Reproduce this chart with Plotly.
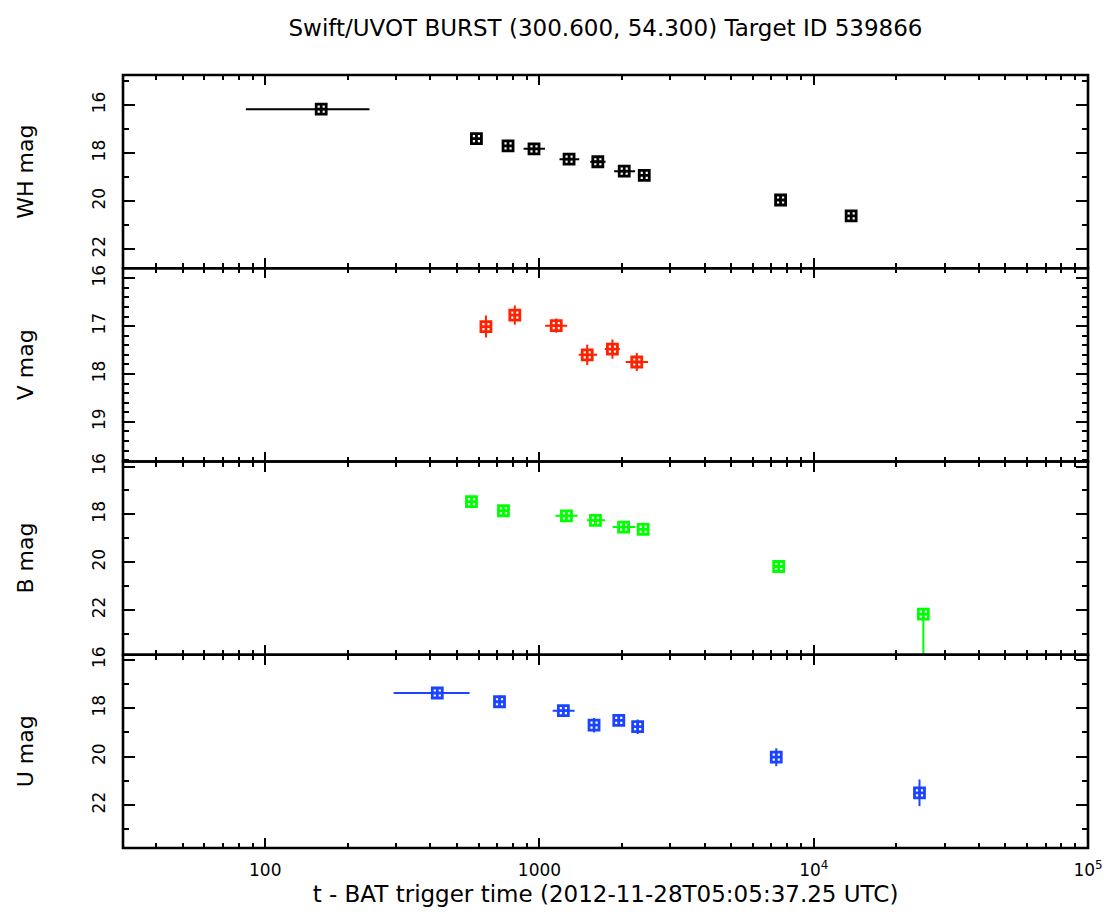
import numpy as np
import plotly.graph_objects as go
from plotly.subplots import make_subplots

# ---------------- data ----------------
# WH filter (black)
wh_t = [160, 589, 768, 955, 1282, 1632, 2037, 2410, 7570, 13690]
wh_t_lo = [75, 0, 0, 80, 99, 101, 166, 0, 0, 0]
wh_t_hi = [80, 0, 0, 92, 114, 110, 195, 0, 0, 0]
wh_mag = [16.17, 17.40, 17.70, 17.82, 18.25, 18.36, 18.75, 18.93, 19.95, 20.61]
wh_err = [0.05, 0.05, 0.05, 0.06, 0.07, 0.07, 0.07, 0.08, 0.08, 0.1]

# V filter (red)
v_t = [638, 813, 1151, 1493, 1845, 2263]
v_t_lo = [0, 0, 102, 103, 115, 202]
v_t_hi = [0, 0, 111, 129, 118, 226]
v_mag = [17.01, 16.77, 16.99, 17.60, 17.48, 17.75]
v_err = [0.23, 0.20, 0.15, 0.21, 0.20, 0.19]

# B filter (green)
b_t = [565, 739, 1254, 1600, 2026, 2388, 7450, 25100]
b_t_lo = [0, 0, 111, 111, 177, 0, 0, 0]
b_t_hi = [0, 0, 123, 134, 212, 0, 0, 0]
b_mag = [17.47, 17.85, 18.06, 18.25, 18.53, 18.63, 20.18, 22.17]
b_err_up = [0.08, 0.1, 0.08, 0.08, 0.08, 0.15, 0.15, 0.2]
b_err_dn = [0.08, 0.1, 0.08, 0.08, 0.08, 0.15, 0.15, 2.5]

# U filter (blue)
u_t = [424, 715, 1222, 1581, 1946, 2280, 7300, 24300]
u_t_lo = [130, 0, 105, 0, 0, 0, 0, 0]
u_t_hi = [132, 0, 121, 0, 0, 0, 0, 0]
u_mag = [17.37, 17.73, 18.10, 18.70, 18.50, 18.76, 20.02, 21.49]
u_err = [0.05, 0.26, 0.1, 0.3, 0.2, 0.3, 0.37, 0.55]

panel_names = ["WH mag", "V mag", "B mag", "U mag"]
panel_colors = ["#000000", "#ff2200", "#00ff00", "#1a44ff"]
y_ranges = [[22.79, 14.75], [19.83, 15.79], [23.87, 15.79], [23.77, 15.79]]
y_major = [[16, 18, 20, 22], [16, 17, 18, 19], [16, 18, 20, 22], [16, 18, 20, 22]]
y_minor = [
    [15, 17, 19, 21],
    [round(15.8 + 0.2 * i, 1) for i in range(21)],
    [17, 19, 21, 23],
    [17, 19, 21, 23],
]
x_major = [100, 1000, 1e4, 1e5]
x_major_text = ["100", "1000", "10<sup>4</sup>", "10<sup>5</sup>"]
x_minor = [m * 10 ** d for d in range(1, 5) for m in range(2, 10)]
x_range = [np.log10(30.3), 5.0]

title_text = "Swift/UVOT BURST (300.600, 54.300) Target ID 539866"
xlabel = "t - BAT trigger time (2012-11-28T05:05:37.25 UTC)"

FONT = "DejaVu Sans, Liberation Sans, sans-serif"

fig = make_subplots(rows=4, cols=1, shared_xaxes=True, vertical_spacing=0)

series = [
    (wh_t, wh_t_lo, wh_t_hi, wh_mag, wh_err, wh_err),
    (v_t, v_t_lo, v_t_hi, v_mag, v_err, v_err),
    (b_t, b_t_lo, b_t_hi, b_mag, b_err_dn, b_err_up),
    (u_t, u_t_lo, u_t_hi, u_mag, u_err, u_err),
]

for i, (t, tlo, thi, mag, edn, eup) in enumerate(series):
    c = panel_colors[i]
    fig.add_trace(
        go.Scatter(
            x=t, y=mag, mode="markers",
            marker=dict(symbol="square-cross-open", size=10, color=c,
                        line=dict(width=2.8, color=c)),
            error_x=dict(type="data", symmetric=False, array=thi, arrayminus=tlo,
                         color=c, thickness=2, width=0),
            error_y=dict(type="data", symmetric=False, array=edn, arrayminus=eup,
                         color=c, thickness=2, width=0),
            showlegend=False, cliponaxis=True, hoverinfo="skip",
        ),
        row=i + 1, col=1,
    )

for i in range(4):
    fig.update_xaxes(
        type="log", range=x_range,
        showline=False, mirror="ticks",
        ticks="inside", ticklen=10, tickwidth=2, tickcolor="black",
        tickmode="array", tickvals=x_major, ticktext=x_major_text,
        minor=dict(ticks="inside", ticklen=5, tickwidth=2, tickcolor="black",
                   tickmode="array", tickvals=x_minor),
        showgrid=False, zeroline=False,
        tickfont=dict(family=FONT, size=17, color="black"),
        row=i + 1, col=1,
    )
    fig.update_yaxes(
        range=y_ranges[i],
        showline=False, mirror="ticks",
        ticks="inside", ticklen=12, tickwidth=2, tickcolor="black",
        tickmode="array", tickvals=y_major[i],
        minor=dict(ticks="inside", ticklen=6, tickwidth=2, tickcolor="black",
                   tickmode="array", tickvals=y_minor[i]),
        tickangle=-90, ticklabelstandoff=14,
        showgrid=False, zeroline=False,
        tickfont=dict(family=FONT, size=17, color="black"),
        title=dict(text=panel_names[i], standoff=48,
                   font=dict(family=FONT, size=22, color="black")),
        automargin=False,
        row=i + 1, col=1,
    )

fig.update_xaxes(
    ticklabelstandoff=10,
    title=dict(text=xlabel, font=dict(family=FONT, size=23, color="black"), standoff=6),
    automargin=False,
    row=4, col=1,
)

# panel frames drawn as single shared borders
for i in range(4):
    dom = fig.layout["yaxis" + ("" if i == 0 else str(i + 1))].domain
    fig.add_shape(type="rect", xref="paper", yref="paper",
                  x0=0, x1=1, y0=dom[0], y1=dom[1],
                  line=dict(color="black", width=2.6), fillcolor="rgba(0,0,0,0)",
                  layer="above")

fig.update_layout(
    width=1111, height=915,
    margin=dict(l=123, r=23, t=75, b=67),
    paper_bgcolor="white", plot_bgcolor="white",
    hovermode=False,
    title=dict(text=title_text, x=0.545, xanchor="center", y=0.97, yanchor="middle",
               font=dict(family=FONT, size=23, color="black")),
)

fig.write_html("out.html", post_script="document.body.style.margin='0px';",
               config={"displayModeBar": False})
